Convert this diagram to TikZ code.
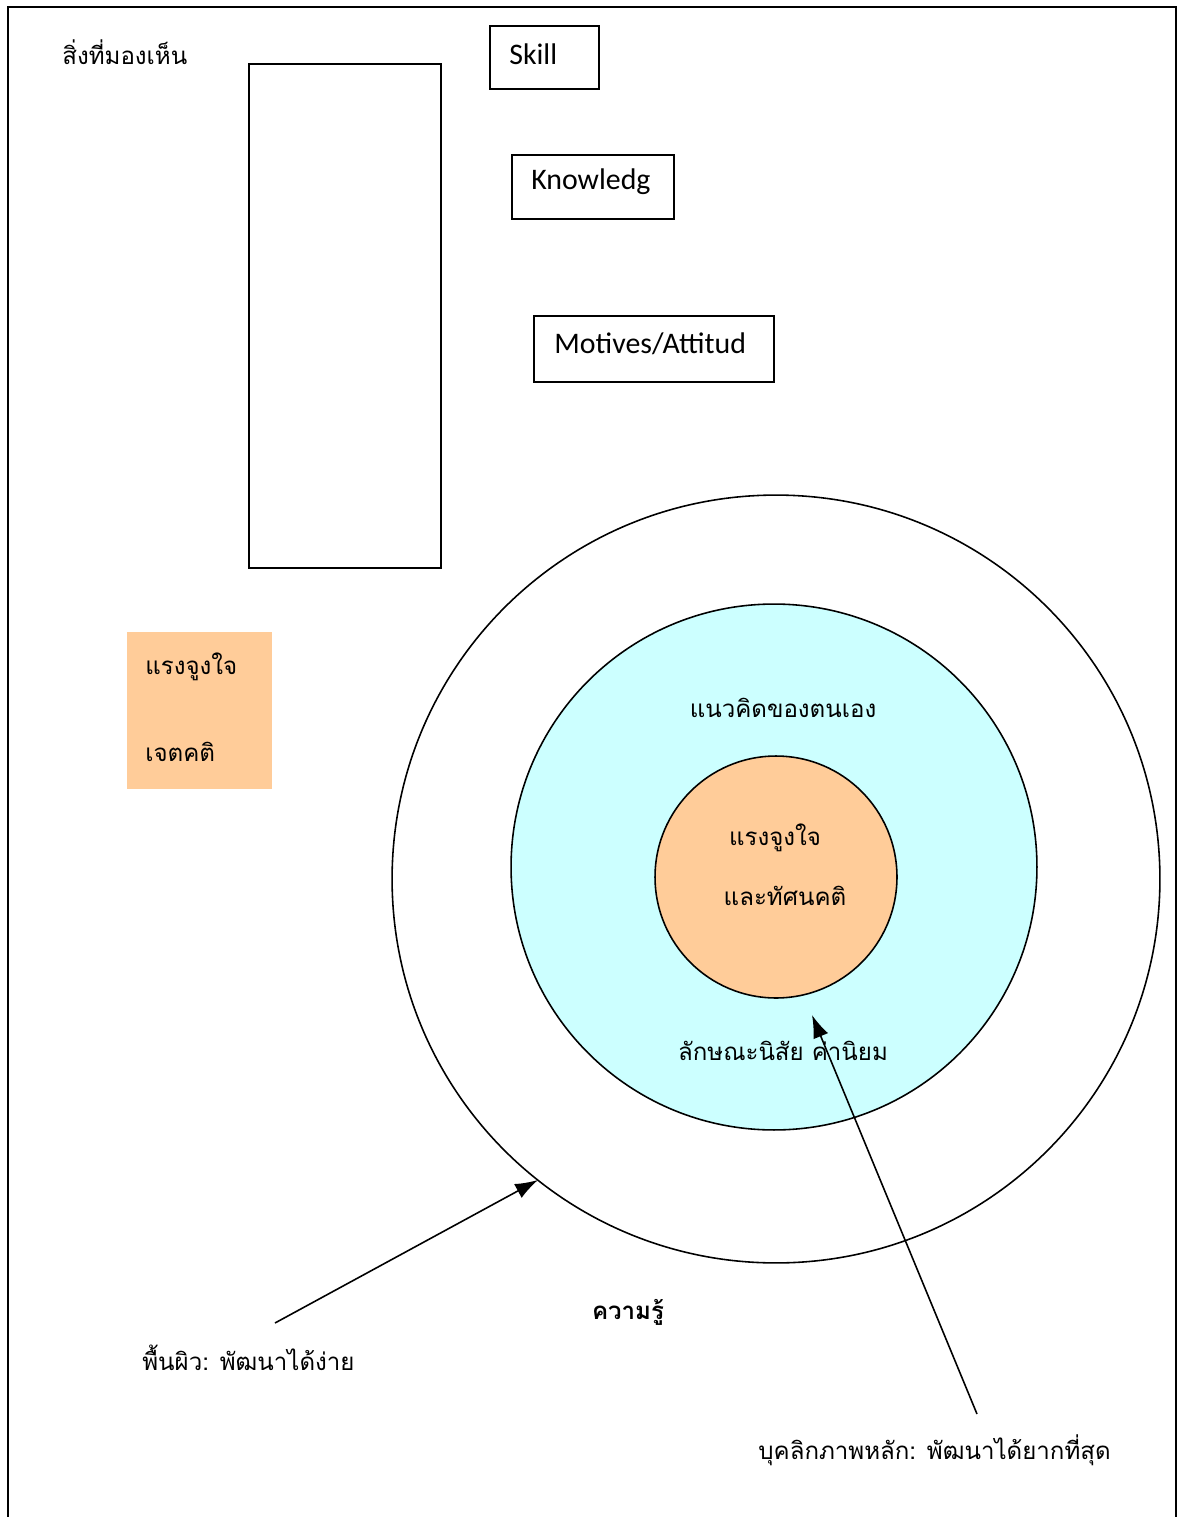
\documentclass[tikz,border=0pt]{standalone}
\usepackage{fontspec}
\setmainfont{Carlito}
\newfontfamily\thaifont[Script=Thai]{Loma}
\usetikzlibrary{arrows.meta}

\tikzset{
  box/.style={draw, line width=1pt, inner sep=0pt},
  eng/.style={font=\fontsize{17}{20}\selectfont, inner sep=0pt},
  thai/.style={font=\thaifont\fontsize{13.7}{16}\selectfont, inner sep=0pt},
  peach/.style={fill={rgb,255:red,255;green,204;blue,153}},
  aqua/.style={fill={rgb,255:red,204;green,255;blue,255}},
  pointer/.style={-{Latex[length=13pt,width=9pt]}, line width=0.9pt}
}

\begin{document}
\begin{tikzpicture}
[x=0.02cm, y=-0.02cm]
\useasboundingbox (0,0) rectangle (1178,1517);
\draw[line width=1.1pt] (8,1517) -- (8,7) -- (1176,7) -- (1176,1517);

\node[thai, anchor=west] (seen) at (62,52) {สิ่งที่มองเห็น};
\node[box, minimum width=3.84cm, minimum height=10.08cm, anchor=north west] (tall) at (248,63) {};

\node[box, minimum width=2.18cm, minimum height=1.26cm, anchor=north west] (skill) at (489,25) {};
\node[eng, anchor=west] (skilltxt) at (509,54) {Skill};
\node[box, minimum width=3.24cm, minimum height=1.28cm, anchor=north west] (know) at (511,154) {};
\node[eng, anchor=west] (knowtxt) at (531,182) {Knowledg};
\node[box, minimum width=4.8cm, minimum height=1.32cm, anchor=north west] (motive) at (533,315) {};
\node[eng, anchor=west] (motivetxt) at (554,344) {Motives/Attitud};

\node[peach, minimum width=2.9cm, minimum height=3.14cm, anchor=north west] (note) at (127,632) {};
\node[thai, anchor=west] (note1) at (145,667) {แรงจูงใจ};
\node[thai, anchor=west] (note2) at (145,752) {เจตคติ};

% three rings
\node[draw, circle, line width=0.9pt, minimum size=15.36cm] (outer) at (776,879) {};
\node[draw, circle, aqua, line width=0.9pt, minimum size=10.52cm] (middle) at (774,867) {};
\node[draw, circle, peach, line width=0.9pt, minimum size=4.84cm] (inner) at (776,877) {};

\node[thai] (self) at (783,708) {แนวคิดของตนเอง};
\node[thai] (core1) at (775,838) {แรงจูงใจ};
\node[thai] (core2) at (785,896) {และทัศนคติ};
\node[thai] (trait) at (783,1051) {ลักษณะนิสัย ค่านิยม};
\node[thai, font=\thaifont\bfseries\fontsize{13.7}{16}\selectfont] (knowledge) at (628,1312) {ความรู้};

\node[thai, anchor=west] (surface) at (142,1358) {พื้นผิว: พัฒนาได้ง่าย};
\node[thai, anchor=west] (coreps) at (758,1450) {บุคลิกภาพหลัก: พัฒนาได้ยากที่สุด};

\coordinate (s1) at (275,1323);
\coordinate (e1) at (538,1180);
\coordinate (s2) at (977,1414);
\coordinate (e2) at (812,1015);

\foreach \from/\to in {s1/e1,s2/e2}
\draw[pointer] (\from) -- (\to);
\end{tikzpicture}
\end{document}
